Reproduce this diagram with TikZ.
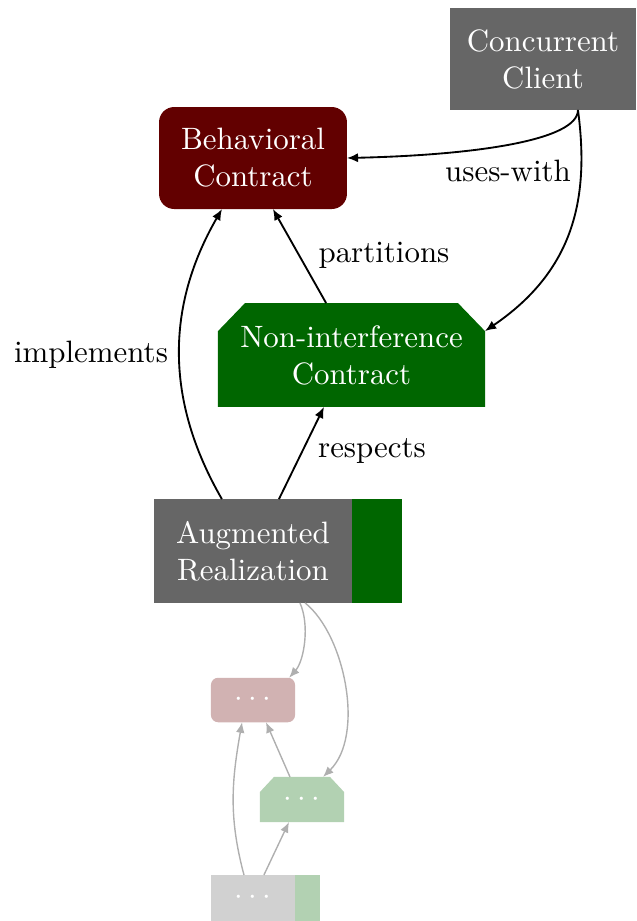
\documentclass[tikz,border=0pt]{standalone}
\usetikzlibrary{arrows.meta,calc,backgrounds}
\definecolor{ccgray}{RGB}{102,102,102}
\definecolor{bcred}{RGB}{98,0,0}
\definecolor{nicgreen}{RGB}{0,102,0}
\definecolor{lgray}{RGB}{209,209,209}
\definecolor{lred}{RGB}{209,178,178}
\definecolor{lgreen}{RGB}{178,209,178}
\definecolor{ledge}{RGB}{175,175,175}
\tikzset{
  box/.style={rectangle, inner sep=0pt, outer sep=0pt, align=center, text=white},
  bigbox/.style={box, minimum height=33pt},
  smallbox/.style={box, minimum width=27.2pt, minimum height=14.4pt},
  rel/.style={semithick, -{Latex[length=3.6pt,width=3pt]}},
  lrel/.style={ledge, line width=0.45pt, -{Latex[length=3.4pt,width=2.8pt]}},
  lbl/.style={inner sep=0pt}
}
\begin{document}
\begin{tikzpicture}[x=0.3236pt,y=-0.3236pt]
\useasboundingbox (0,0) rectangle (636,921);
% main nodes
\node[bigbox, fill=ccgray, minimum width=60.2pt] (cc) at (543,59) {Concurrent\\Client};
\node[bigbox, fill=bcred, minimum width=60.8pt, rounded corners=4.9pt] (bc) at (253,158) {Behavioral\\Contract};
\node[bigbox, minimum width=86.4pt, minimum height=33.6pt] (nic) at (351.5,355) {Non-interference\\Contract};
\node[bigbox, fill=ccgray, minimum width=64.1pt, minimum height=33.6pt] (aug) at (253,551) {Augmented\\Realization};
\node[box, fill=nicgreen, anchor=west, minimum width=16.2pt, minimum height=33.6pt] (augg) at (aug.east) {};
\begin{scope}[on background layer]
\fill[nicgreen] (nic.south west) -- ($(nic.north west)+(0,28)$) -- ($(nic.north west)+(27,0)$)
  -- ($(nic.north east)+(-27,0)$) -- ($(nic.north east)+(0,28)$) -- (nic.south east) -- cycle;
\end{scope}
% small nodes
\node[smallbox, fill=lred, rounded corners=2.3pt] (sbc) at (253,700) {$\cdots$};
\node[smallbox, minimum height=14.6pt] (snic) at (302,799.5) {$\cdots$};
\node[smallbox, fill=lgray, minimum height=14.9pt] (saug) at (253,898) {$\cdots$};
\node[box, fill=lgreen, anchor=west, minimum width=8.1pt, minimum height=14.9pt] (saugg) at (saug.east) {};
\begin{scope}[on background layer]
\fill[lgreen] (snic.south west) -- ($(snic.north west)+(0,15)$) -- ($(snic.north west)+(14,0)$)
  -- ($(snic.north east)+(-14,0)$) -- ($(snic.north east)+(0,15)$) -- (snic.south east) -- cycle;
\end{scope}
% labels
\node[lbl] (luses) at (508,171) {uses-with};
\node[lbl] (lpart) at (384,255) {partitions};
\node[lbl] (limpl) at (91,355) {implements};
\node[lbl] (lresp) at (372,451) {respects};
% main edges
\coordinate (ccs) at ($(cc.south west)!0.688!(cc.south east)$);
\draw[rel] (ccs) .. controls +(0,30) and +(130,-3) .. (bc.east);
\draw[rel] (ccs) .. controls +(12,90) and +(88,-60) .. ($(nic.north east)+(0,28)$);
\draw[rel] ($(nic.north west)!0.405!(nic.north east)$) -- ($(bc.south west)!0.606!(bc.south east)$);
\draw[rel] ($(aug.north west)!0.343!(aug.north east)$) to[out=120,in=-120] ($(bc.south west)!0.335!(bc.south east)$);
\draw[rel] ($(aug.north west)!0.631!(aug.north east)$) -- ($(nic.south west)!0.397!(nic.south east)$);
% small edges
\draw[lrel] ($(aug.south west)!0.737!(aug.south east)$) .. controls +(10,22) and +(15,-17) .. ($(sbc.north west)!0.93!(sbc.north east)$);
\draw[lrel] ($(aug.south west)!0.763!(aug.south east)$) .. controls +(40,32) and +(42,-41) .. ($(snic.north west)!0.75!(snic.north east)$);
\draw[lrel] ($(snic.north west)!0.357!(snic.north east)$) -- ($(sbc.south west)!0.655!(sbc.south east)$);
\draw[lrel] ($(saug.north west)!0.393!(saug.north east)$) to[out=105,in=-100] ($(sbc.south west)!0.37!(sbc.south east)$);
\draw[lrel] ($(saug.north west)!0.63!(saug.north east)$) -- ($(snic.south west)!0.345!(snic.south east)$);
\end{tikzpicture}
\end{document}
